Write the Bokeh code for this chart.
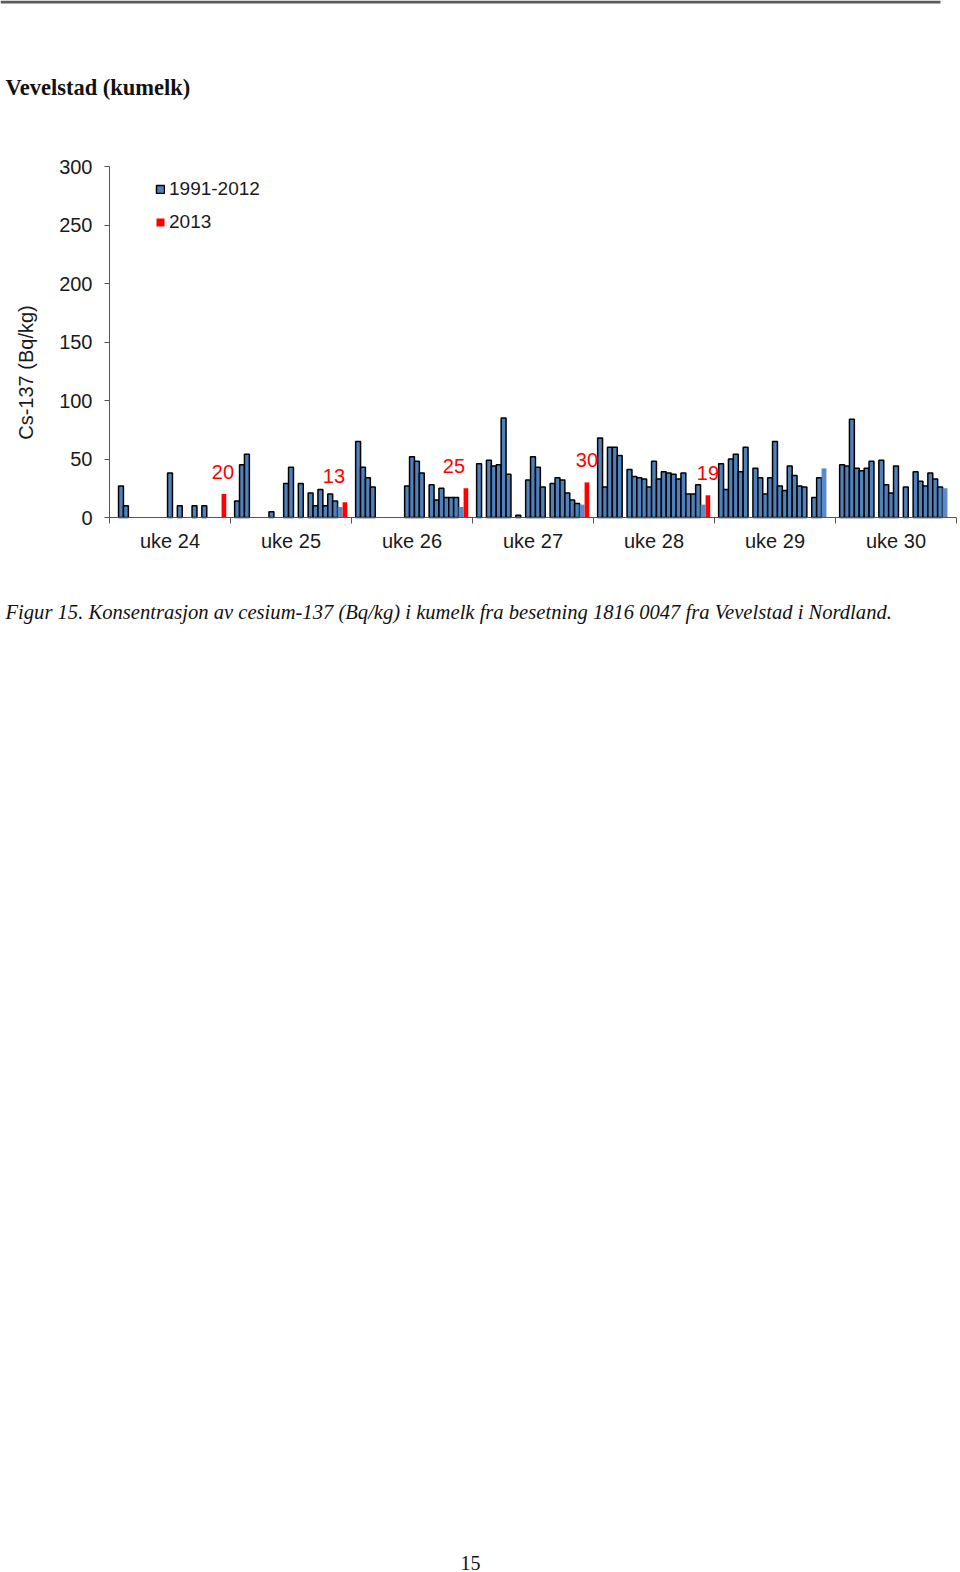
import numpy as np
from bokeh.plotting import figure
from bokeh.models import (ColumnDataSource, FixedTicker, Range1d, Legend,
                          LegendItem)
from bokeh.embed import file_html
from bokeh.resources import INLINE
from bokeh.core.properties import value

# ---------------- data ----------------
weeks = ["uke 24", "uke 25", "uke 26", "uke 27", "uke 28", "uke 29", "uke 30"]
years = list(range(1991, 2014))          # 1991 ... 2013 (23 series)
N = None
#          91  92  93  94  95  96  97  98  99  00  01  02  03  04  05  06  07  08  09  10  11  12  13
uke24 = [N, 27, 10, N, N, N, N, N, N, N, N, 38, N, 10, N, N, 10, N, 10, N, N, N, 20]
uke25 = [14, 45, 54, N, N, N, N, 5, N, N, 29, 43, N, 29, N, 21, 10, 24, 10, 20, 14, 9, 13]
uke26 = [65, 43, 34, 26, N, N, N, N, N, N, 27, 52, 48, 38, N, 28, 15, 25, 17, 17, 17, 9, 25]
uke27 = [46, N, 49, 44, 45, 85, 37, N, 2, N, 32, 52, 43, 26, N, 29, 34, 32, 21, 15, 12, 11, 30]
uke28 = [68, 26, 60, 60, 53, N, 41, 35, 34, 33, 26, 48, 33, 39, 38, 37, 33, 38, 20, 20, 28, 11, 19]
uke29 = [46, 24, 50, 54, 39, 60, N, 42, 34, 20, 34, 65, 27, 23, 44, 36, 27, 26, N, 17, 34, 42, N]
uke30 = [45, 44, 84, 42, 40, 42, 48, N, 49, 28, 21, 44, N, 26, N, 39, 31, 27, 38, 33, 26, 25, N]
values_by_week = [uke24, uke25, uke26, uke27, uke28, uke29, uke30]
y_ticks = [0, 50, 100, 150, 200, 250, 300]
Y_MAX = 300

page_title = "Vevelstad (kumelk)"
y_title = "Cs-137 (Bq/kg)"
caption = ("Figur 15. Konsentrasjon av cesium-137 (Bq/kg) i kumelk fra besetning "
           "1816 0047 fra Vevelstad i Nordland.")
page_no = "15"

# ---------------- layout / styling constants ----------------
W, H = 960, 1572
AX_LEFT, AX_RIGHT, AX_TOP, AX_BOTTOM = 109, 956, 166, 517   # plot-area edges (px)
SLOT = 0.0405                      # width of one year-slot (in week units)
MARGIN = (1 - len(years) * SLOT) / 2
LABEL_DX = [-1, -11, -12, 0, 0, 0, 0]   # pixel nudges for 2013 value labels
LABEL_DY = [-22, -26, -22, -22, -22, -22, -22]
FONT = "Liberation Sans"
SERIF = "Liberation Serif"
BLUE = "#4F81BD"
BLUE_2012 = "#5A8BC8"
RED = "#FF0000"
AXIS = "#555555"
TXT = "#1a1a1a"

# data ranges chosen so that the plot area lands on AX_* while the frame is the whole page
nweeks = len(weeks)
px_per_week = (AX_RIGHT - AX_LEFT) / nweeks
px_per_unit = (AX_BOTTOM - AX_TOP) / Y_MAX
x_range = Range1d(-0.5 - AX_LEFT / px_per_week, nweeks - 0.5 + (W - AX_RIGHT) / px_per_week)
y_range = Range1d(-(H - AX_BOTTOM) / px_per_unit, AX_BOTTOM / px_per_unit)

old = dict(x=[], top=[])
y12 = dict(x=[], top=[])
y13 = dict(x=[], top=[])
lab = dict(x=[], y=[], text=[], xo=[], yo=[])
for w, vals in enumerate(values_by_week):
    for k, v in enumerate(vals):
        if v is None:
            continue
        xpos = w - 0.5 + MARGIN + (k + 0.5) * SLOT
        if years[k] <= 2011:
            tgt = old
        elif years[k] == 2012:
            tgt = y12
        else:
            tgt = y13
            lab["x"].append(xpos)
            lab["y"].append(v)
            lab["text"].append(str(v))
            lab["xo"].append(LABEL_DX[w])
            lab["yo"].append(LABEL_DY[w])
        tgt["x"].append(xpos)
        tgt["top"].append(v)

p = figure(width=W, height=H, x_range=x_range, y_range=y_range,
           min_border_left=0, min_border_right=0, min_border_top=0, min_border_bottom=0,
           output_backend="svg", toolbar_location=None)
p.grid.visible = False
p.outline_line_color = None
p.extra_x_ranges = {"px": Range1d(0, W)}
p.extra_y_ranges = {"py": Range1d(H, 0)}

# ---------------- bars ----------------
r_old = p.vbar(x="x", top="top", width=SLOT, bottom=0, source=ColumnDataSource(old),
               fill_color=BLUE, line_color="black", line_width=1.5)
r_12 = p.vbar(x="x", top="top", width=SLOT, bottom=0, source=ColumnDataSource(y12),
              fill_color=BLUE_2012, line_color=None)
r_13 = p.vbar(x="x", top="top", width=SLOT * 0.95, bottom=0, source=ColumnDataSource(y13),
              fill_color=RED, line_color=None)
p.text(x="x", y="y", text="text", x_offset="xo", y_offset="yo", source=ColumnDataSource(lab),
       text_align="center", text_baseline="middle", text_color=RED,
       text_font=value(FONT), text_font_size="20px")

# ---------------- axes ----------------
xa = p.xaxis[0]
xa.fixed_location = 0
xa.bounds = (-0.5, nweeks - 0.5)
xa.ticker = FixedTicker(ticks=list(range(nweeks)),
                        minor_ticks=[i - 0.5 for i in range(nweeks + 1)])
xa.major_label_overrides = {i: wk for i, wk in enumerate(weeks)}
xa.major_tick_line_color = None
xa.minor_tick_line_color = AXIS
xa.minor_tick_in = 0
xa.minor_tick_out = 6
xa.axis_line_color = AXIS
xa.major_label_standoff = 6
xa.major_label_text_font = FONT
xa.major_label_text_font_size = "20px"
xa.major_label_text_color = TXT

ya = p.yaxis[0]
ya.fixed_location = -0.5
ya.bounds = (0, Y_MAX)
ya.ticker = FixedTicker(ticks=y_ticks)
ya.minor_tick_line_color = None
ya.major_tick_in = 0
ya.major_tick_out = 5
ya.major_tick_line_color = AXIS
ya.axis_line_color = AXIS
ya.major_label_standoff = 12
ya.major_label_text_font = FONT
ya.major_label_text_font_size = "20px"
ya.major_label_text_color = TXT

# ---------------- legend ----------------
legend = Legend(items=[LegendItem(label="1991-2012", renderers=[r_old]),
                       LegendItem(label="2013", renderers=[r_13])],
                location=(155, H - 233), orientation="vertical", glyph_width=10,
                glyph_height=10, label_standoff=4, spacing=11, padding=0, margin=0,
                label_height=21, label_text_font=FONT, label_text_font_size="19px",
                label_text_color=TXT, border_line_color=None,
                background_fill_alpha=0)
p.add_layout(legend)

# ---------------- page texts (pixel coordinates) ----------------
pxkw = dict(x_range_name="px", y_range_name="py")
p.text(x=[25], y=[372], text=[y_title], angle=np.pi / 2, text_align="center",
       text_baseline="middle", text_font=value(FONT), text_font_size="20px",
       text_color=TXT, **pxkw)
p.segment(x0=[0], y0=[1.5], x1=[940], y1=[1.5], line_color="#5a5a5a", line_width=3, **pxkw)
p.text(x=[5], y=[87], text=[page_title], text_font=value(SERIF),
       text_font_style="bold", text_font_size="22.5px", text_baseline="middle",
       text_color="#111111", **pxkw)
p.text(x=[5], y=[611], text=[caption], text_font=value(SERIF), text_font_style="italic",
       text_font_size="20.6px", text_baseline="middle", text_color="#111111", **pxkw)
p.text(x=[470], y=[1562], text=[page_no], text_font=value(SERIF),
       text_font_size="20px", text_baseline="alphabetic", text_align="center",
       text_color="#111111", **pxkw)

open("out.html", "w").write(file_html(p, INLINE))
